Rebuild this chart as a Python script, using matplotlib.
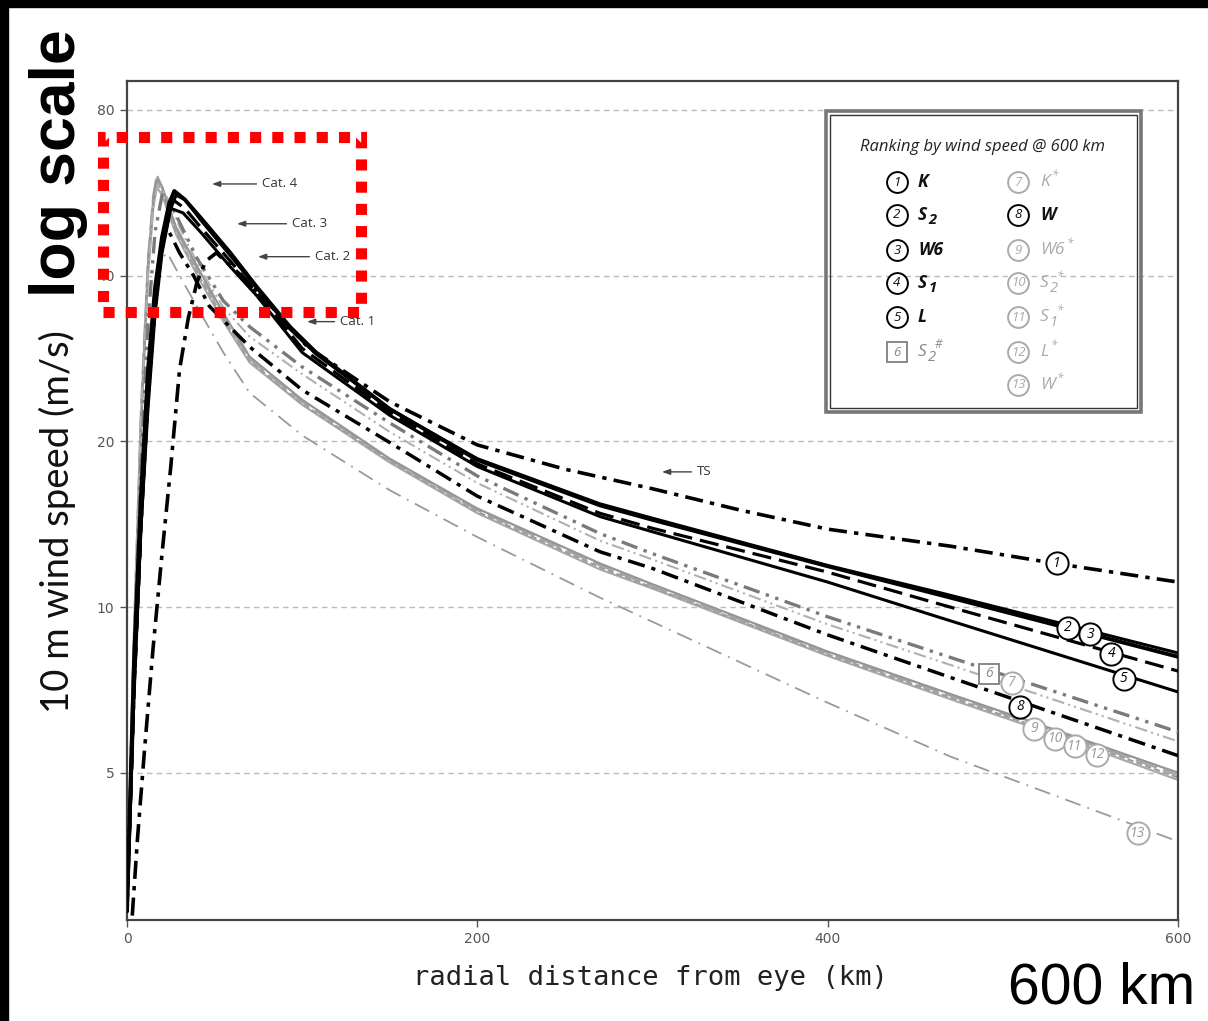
import matplotlib
matplotlib.use("Agg")
import matplotlib.pyplot as plt
from matplotlib.patches import Rectangle
from matplotlib.lines import Line2D

W_PX, H_PX = 1208, 1021

# ---------------- data ----------------
r_K = [3, 6, 10, 15, 20, 25, 30, 35, 40, 45, 51, 58, 66, 86, 103, 150, 200, 250, 300, 350, 400, 470, 530, 600]
v_K = [2.75, 3.8, 5.5, 8.5, 12.5, 18, 27, 33.5, 39, 42.5, 44, 42, 39.8, 34.2, 29.7, 23.6, 19.7, 17.8, 16.4, 15.0, 13.85, 12.9, 12.0, 11.1]

r_S2 = [0, 4, 8, 12, 16, 20, 24, 27, 33, 42, 59, 74, 93, 108, 150, 200, 270, 300, 400, 465, 600]
v_S2 = [2.8, 8, 16, 27, 38, 47, 54, 57, 55, 51, 44, 38.2, 32.3, 29.0, 22.9, 18.5, 15.3, 14.4, 11.86, 10.5, 8.12]

r_W6 = [0, 4, 8, 12, 16, 20, 24, 28, 33, 42, 59, 74, 93, 108, 150, 200, 270, 300, 400, 465, 600]
v_W6 = [2.8, 7, 14, 24, 35, 45, 52, 56, 55, 50.5, 43.5, 38, 32, 28.8, 22.9, 18.6, 15.4, 14.5, 11.9, 10.6, 8.25]

r_S1 = [0, 4, 8, 12, 16, 20, 26, 33, 42, 59, 74, 100, 150, 200, 270, 300, 400, 465, 600]
v_S1 = [2.8, 7, 14, 24, 35, 45, 55, 53, 49, 42.5, 37.3, 29.5, 22.6, 18.2, 14.8, 13.9, 11.57, 10.1, 7.65]

r_L = [0, 4, 8, 12, 16, 20, 25, 32, 42, 59, 74, 100, 150, 200, 270, 300, 400, 465, 600]
v_L = [2.8, 7, 14, 23, 34, 44, 53, 52, 48, 41.5, 36.8, 29.0, 22.3, 18.0, 14.6, 13.7, 11.1, 9.55, 7.01]

r_S2h = [0, 4, 8, 12, 16, 20, 25, 30, 40, 55, 70, 100, 150, 200, 270, 300, 400, 470, 600]
v_S2h = [2.9, 8, 18, 33, 48, 56, 54, 50, 43, 36, 32.3, 27.3, 21.6, 17.3, 13.6, 12.5, 9.6, 8.1, 5.93]

r_Ks = [0, 4, 8, 12, 15, 18, 25, 30, 42, 55, 70, 100, 150, 200, 270, 300, 400, 470, 600]
v_Ks = [3.0, 9, 22, 40, 54, 59, 54, 49, 41, 35, 31, 26.5, 20.8, 16.8, 13.2, 12.2, 9.3, 7.85, 5.7]

r_W = [0, 4, 9, 13, 18, 22, 30, 38, 47, 70, 100, 150, 200, 270, 300, 400, 470, 600]
v_W = [2.8, 7, 17, 29, 42, 49.5, 44, 40, 35.2, 29.7, 24.8, 19.9, 15.9, 12.6, 11.75, 8.9, 7.45, 5.37]

r_gray = [0, 4, 8, 12, 15, 17, 20, 28, 42, 55, 70, 100, 150, 200, 270, 300, 400, 470, 530, 600]
v_W6s = [3.0, 9, 22, 42, 55, 60, 58, 49, 40.5, 34.2, 28.5, 23.8, 18.6, 15.1, 12.0, 11.0, 8.3, 6.95, 5.98, 5.0]
v_S2s = [3.0, 9, 23, 43, 56, 61, 58, 48.5, 40, 33.8, 28.2, 23.6, 18.5, 15.0, 11.9, 10.9, 8.25, 6.9, 5.94, 4.95]
v_S1s = [3.0, 8.5, 21, 41, 54, 59, 57, 48, 39.5, 33.5, 28.0, 23.4, 18.4, 14.9, 11.8, 10.85, 8.2, 6.85, 5.9, 4.9]
v_Ls = [3.0, 8.5, 21, 40, 53, 58, 56, 47.5, 39, 33, 27.8, 23.3, 18.3, 14.8, 11.7, 10.8, 8.15, 6.8, 5.85, 4.85]

r_Ws = [0, 5, 10, 15, 20, 23, 30, 42, 55, 70, 100, 150, 200, 270, 300, 400, 470, 600]
v_Ws = [3.0, 10, 22, 35, 43, 44, 40, 34.2, 29, 24.5, 20.5, 16.3, 13.4, 10.4, 9.4, 6.7, 5.35, 3.75]

# ranking markers placed on the curves
rank_ids = ['1', '2', '3', '4', '5', '6', '7', '8', '9', '10', '11', '12', '13']
rank_r = [531, 537, 550, 562, 569, 492, 505, 510, 518, 530, 541, 554, 577]
rank_v = [12.0, 9.16, 8.93, 8.22, 7.40, 7.56, 7.28, 6.59, 6.01, 5.76, 5.58, 5.39, 3.88]

# Saffir-Simpson category labels
cat_labels = ['Cat. 4', 'Cat. 3', 'Cat. 2', 'Cat. 1', 'TS']
cat_speed = [58.7, 49.7, 43.3, 33.0, 17.6]
cat_tip_r = [48.5, 62.8, 74.8, 102.8, 305.4]
cat_text_r = [77.1, 94.2, 107.3, 121.6, 325.4]

y_ticks = [5, 10, 20, 40, 80]
x_ticks = [0, 200, 400, 600]

# ---------------- figure ----------------
fig = plt.figure(figsize=(W_PX / 100, H_PX / 100), dpi=100)
fig.patch.set_facecolor('white')

def fx(px):
    return px / W_PX

def fy(py):
    return 1 - py / H_PX

ax = fig.add_axes([fx(127), fy(920), fx(1178) - fx(127), fy(81) - fy(920)])
ax.set_yscale('log')
ax.set_xlim(0, 600)
ax.set_ylim(2.70, 90.3)
ax.set_yticks(y_ticks)
ax.set_yticklabels([str(t) for t in y_ticks])
ax.yaxis.set_minor_locator(matplotlib.ticker.NullLocator())
ax.set_xticks(x_ticks)
ax.set_xticklabels([str(t) for t in x_ticks])
ax.tick_params(axis='both', colors='#555', labelsize=10, length=5, width=1)
ax.tick_params(axis='y', pad=4)
for s in ax.spines.values():
    s.set_color('#444')
    s.set_linewidth(1.6)
for t in y_ticks:
    ax.axhline(t, color='#bbbbbb', lw=1.0, dashes=(4, 3), zorder=0)

def line(r, v, color, lw, dashes=None, z=3):
    ln, = ax.plot(r, v, color=color, lw=lw, zorder=z, solid_capstyle='round',
                  solid_joinstyle='round')
    if dashes is not None:
        ln.set_dashes(dashes)
    return ln

# gray family (bottom)
line(r_Ws, v_Ws, '#9a9a9a', 1.3, (9, 4, 1, 4), z=2)
line(r_gray, v_Ls, '#a8a8a8', 1.5, None, z=2)
line(r_gray, v_S1s, '#9c9c9c', 1.5, (3, 1.5), z=2)
line(r_gray, v_S2s, '#a5a5a5', 1.6, (10, 3), z=2)
line(r_gray, v_W6s, '#959595', 1.6, None, z=2)
line(r_Ks, v_Ks, '#b0b0b0', 1.5, (6, 2, 1, 2, 1, 2), z=2)
line(r_S2h, v_S2h, '#7a7a7a', 2.4, (5, 2, 1, 2, 1, 2), z=3)
# black family
line(r_W, v_W, 'black', 2.5, (5, 2, 1.2, 2), z=4)
line(r_L, v_L, 'black', 2.2, None, z=4)
line(r_S1, v_S1, 'black', 2.3, (6, 2.5), z=4)
line(r_W6, v_W6, 'black', 2.2, None, z=4)
line(r_S2, v_S2, 'black', 2.8, None, z=4)
line(r_K, v_K, 'black', 2.6, (5, 2, 1.2, 2), z=5)

# ranking markers
rank_col = ['black'] * 5 + ['#888888', '#aaaaaa', 'black'] + ['#aaaaaa'] * 5
for i, (rid, rr, vv) in enumerate(zip(rank_ids, rank_r, rank_v)):
    mk = 's' if rid == '6' else 'o'
    ms = 15 if mk == 's' else 16
    ax.plot([rr], [vv], marker=mk, ms=ms, mfc='white', mec=rank_col[i], mew=1.4,
            zorder=6, clip_on=False)
    ax.text(rr, vv, rid, ha='center', va='center', fontsize=10, style='italic',
            family='Open Sans', color=rank_col[i] if rank_col[i] != '#aaaaaa' else '#999999',
            zorder=7)

# category annotations
for lab, sp, tr, xr in zip(cat_labels, cat_speed, cat_tip_r, cat_text_r):
    ax.annotate(lab, xy=(tr, sp), xytext=(xr, sp), ha='left', va='center',
                fontsize=9.5, family='Open Sans', color='#333',
                arrowprops=dict(arrowstyle='-|>,head_length=0.5,head_width=0.18',
                                color='#444', lw=1.0, shrinkA=2, shrinkB=0),
                zorder=8)

# ---------------- legend box ----------------
fig.add_artist(Rectangle((fx(826), fy(412)), fx(1141) - fx(826), fy(111) - fy(412),
                         fill=False, ec='#777', lw=2.6, transform=fig.transFigure))
fig.add_artist(Rectangle((fx(830), fy(408)), fx(1137) - fx(830), fy(115) - fy(408),
                         fill=False, ec='#333', lw=1.0, transform=fig.transFigure))
fig.text(fx(983), fy(147), 'Ranking by wind speed @ 600 km', ha='center', va='center',
         fontsize=12, style='italic', family='Open Sans', color='#222')

leg_rows = [182, 215, 250, 283, 317, 352, 385]
left_entries = [('1', 'K', None, None), ('2', 'S', '2', None), ('3', 'W6', None, None),
                ('4', 'S', '1', None), ('5', 'L', None, None), ('6', 'S', '2', '#')]
right_entries = [('7', 'K', None, '*'), ('8', 'W', None, None), ('9', 'W6', None, '*'),
                 ('10', 'S', '2', '*'), ('11', 'S', '1', '*'), ('12', 'L', None, '*'),
                 ('13', 'W', None, '*')]

renderer = fig.canvas.get_renderer()

def leg_entry(cx, tx, py, num, base, sub, sup, dark, square=False):
    col = 'black' if dark else '#aaaaaa'
    tcol = '#111' if dark else '#aaaaaa'
    if square:
        col = '#888888'
        tcol = '#888888'
    fig.add_artist(Line2D([fx(cx)], [fy(py)], marker='s' if square else 'o',
                          ms=14 if square else 15, mfc='white', mec=col, mew=1.4,
                          transform=fig.transFigure))
    fig.text(fx(cx), fy(py), num, ha='center', va='center', fontsize=9.5,
             style='italic', family='Open Sans', color=tcol)
    weight = 'bold' if dark else 'normal'
    t = fig.text(fx(tx), fy(py), base, ha='left', va='center', fontsize=12.5,
                 style='italic', weight=weight, family='Open Sans', color=tcol)
    bb = t.get_window_extent(renderer)
    xr = bb.x1 + 1
    if sub:
        fig.text(xr / W_PX, fy(py + 5), sub, ha='left', va='center', fontsize=10.5,
                 style='italic', weight=weight, family='Open Sans', color=tcol)
    if sup:
        fig.text(xr / W_PX + fx(1 if sub is None else 7), fy(py - 7), sup, ha='left',
                 va='center', fontsize=8.5, style='italic', weight=weight,
                 family='Open Sans', color=tcol)

for row, ent in zip(leg_rows, left_entries):
    leg_entry(897, 918, row, *ent, dark=(ent[0] != '6'), square=(ent[0] == '6'))
for row, ent in zip(leg_rows, right_entries):
    leg_entry(1018, 1040, row, *ent, dark=(ent[0] == '8'))

# ---------------- axis labels ----------------
fig.text(fx(650), fy(978), 'radial distance from eye (km)', ha='center', va='center',
         fontsize=19.5, family='DejaVu Sans Mono', color='#222')
fig.text(fx(57), fy(522), '10 m wind speed (m/s)', ha='center', va='center',
         rotation=90, fontsize=27.5, family='Lato', color='#111')

# ---------------- overlay annotations ----------------
fig.add_artist(Rectangle((0, fy(7)), 1, 7 / H_PX, color='black', transform=fig.transFigure, zorder=10))
fig.add_artist(Rectangle((0, 0), 8 / W_PX, 1, color='black', transform=fig.transFigure, zorder=10))
fig.text(fx(59), fy(163), 'log scale', ha='center', va='center', rotation=90,
         fontsize=45, weight='bold', family='Liberation Sans', color='black')
fig.text(fx(1195), fy(1003), '600 km', ha='right', va='baseline', fontsize=41,
         family='Liberation Sans', color='black')
fig.add_artist(Rectangle((fx(103.5), fy(312)), fx(360.5) - fx(103.5), fy(137) - fy(312),
                         fill=False, ec='#ff0000', lw=8, linestyle=(0, (1, 1)),
                         transform=fig.transFigure, zorder=11))

fig.savefig('out.png', dpi=100)
